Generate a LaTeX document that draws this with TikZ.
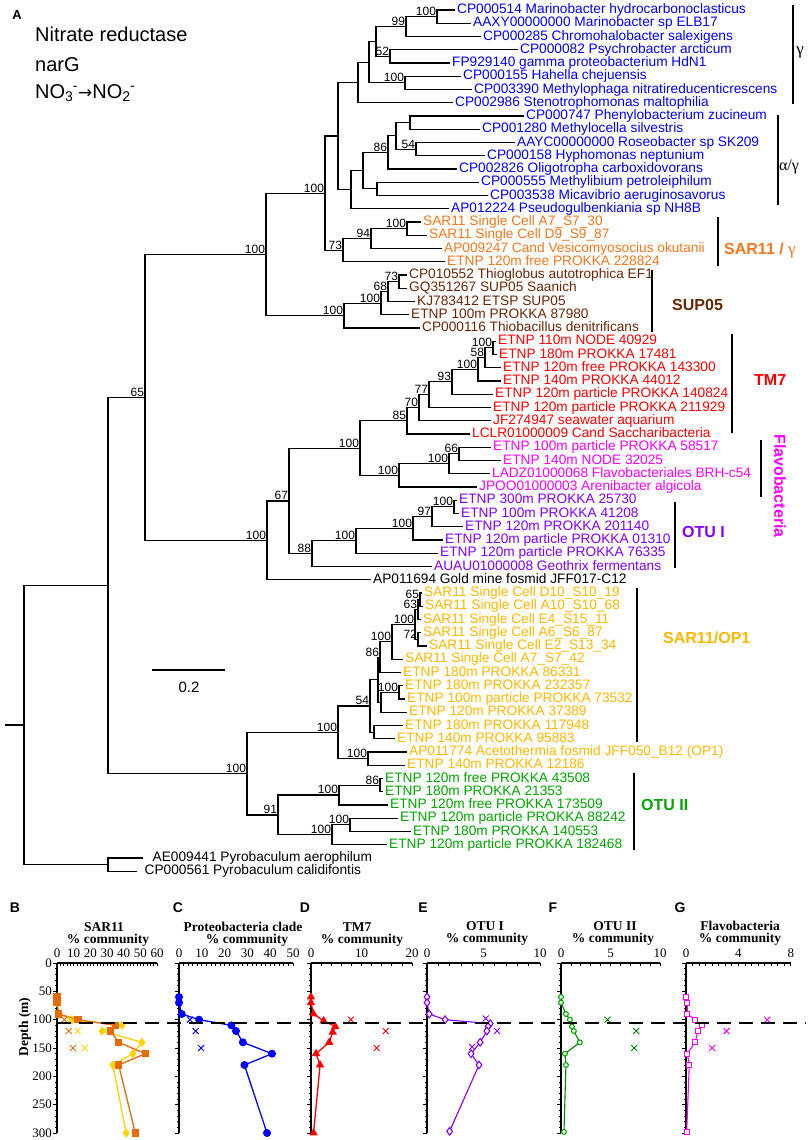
\documentclass[tikz,border=0pt]{standalone}
\usepackage{fontspec}
\setmainfont{Liberation Sans}
\newfontfamily\lsans{Liberation Sans}
\newfontfamily\lserif{Liberation Serif}
\newfontfamily\dejavu{DejaVu Sans}
\usetikzlibrary{plotmarks}
\definecolor{cblue}{RGB}{0,0,255}
\definecolor{corange}{RGB}{245,120,30}
\definecolor{cbrown}{RGB}{105,40,5}
\definecolor{cred}{RGB}{255,0,0}
\definecolor{cmag}{RGB}{255,0,255}
\definecolor{cpurp}{RGB}{130,0,255}
\definecolor{cgold}{RGB}{255,185,0}
\definecolor{cgreen}{RGB}{0,165,0}
\definecolor{sqorange}{RGB}{228,108,10}
\definecolor{dyellow}{RGB}{255,210,0}
\definecolor{fgreen}{RGB}{0,128,0}
\newcommand\leaffont{\lsans\fontsize{13.7}{15}\selectfont}
\newcommand\bootfont{\lsans\fontsize{12}{13}\selectfont}
\newcommand\cladefont{\lsans\bfseries\fontsize{16}{18}\selectfont}
\newcommand\axfont{\lserif\fontsize{13}{15}\selectfont}
\newcommand\axtfont{\lserif\bfseries\fontsize{13.5}{15}\selectfont}
\newcommand\panfont{\lsans\bfseries\fontsize{14}{16}\selectfont}
\newcommand\titfont{\lsans\fontsize{20}{24}\selectfont}
\tikzset{
  br/.style={line width=1.2pt},
  leaf/.style={anchor=west,inner xsep=2.5pt,inner ysep=0pt,text height=0.716em,text depth=0pt,font=\leaffont},
  boot/.style={anchor=south east,inner xsep=0.8pt,inner ysep=0.8pt,font=\bootfont},
  clade/.style={font=\cladefont,inner sep=0pt},
  cbar/.style={line width=1.3pt},
  axline/.style={line width=1.6pt},
  tk/.style={line width=0.8pt},
  axlab/.style={font=\axfont,inner sep=0pt},
  axtitle/.style={font=\axtfont,inner sep=0pt},
  panlab/.style={font=\panfont,inner sep=0pt},
  titl/.style={anchor=base west,inner sep=0pt,font=\titfont},
  xcross/.pic={\draw[line width=0.9pt] (-3pt,-3pt)--(3pt,3pt) (-3pt,3pt)--(3pt,-3pt);}
}
\begin{document}
\begin{tikzpicture}[x=1pt,y=-1pt]
\fill[white] (0,0) rectangle (808,1140);
\path[use as bounding box] (0,0) rectangle (808,1140);

% ---------- title ----------
\node[panlab,font=\lsans\bfseries\fontsize{13}{15}\selectfont] (pA) at (17,15) {A};
\node[titl] (t1) at (35,42) {Nitrate reductase};
\node[titl] (t2) at (35,71) {narG};
\node[titl] (t3) at (35,98) {NO\textsubscript{3}\kern-0.5pt\textsuperscript{-}{\dejavu\fontsize{17}{20}\selectfont →}NO\textsubscript{2}\kern-0.5pt\textsuperscript{-}};

% ---------- leaves ----------
\node[leaf,cblue] (l0) at (454.5,10) {CP000514 Marinobacter hydrocarbonoclasticus};
\node[leaf,cblue] (l1) at (470.5,23.25) {AAXY00000000 Marinobacter sp ELB17};
\node[leaf,cblue] (l2) at (480.5,36.5) {CP000285 Chromohalobacter salexigens};
\node[leaf,cblue] (l3) at (517.5,49.75) {CP000082 Psychrobacter arcticum};
\node[leaf,cblue] (l4) at (449.5,63) {FP929140 gamma proteobacterium HdN1};
\node[leaf,cblue] (l5) at (460.5,76.25) {CP000155 Hahella chejuensis};
\node[leaf,cblue] (l6) at (471.5,89.5) {CP003390 Methylophaga nitratireducenticrescens};
\node[leaf,cblue] (l7) at (452.5,102.75) {CP002986 Stenotrophomonas maltophilia};
\node[leaf,cblue] (l8) at (523.5,116) {CP000747 Phenylobacterium zucineum};
\node[leaf,cblue] (l9) at (479.5,129.25) {CP001280 Methylocella silvestris};
\node[leaf,cblue] (l10) at (514.5,142.5) {AAYC00000000 Roseobacter sp SK209};
\node[leaf,cblue] (l11) at (484.5,155.75) {CP000158 Hyphomonas neptunium};
\node[leaf,cblue] (l12) at (456.5,169) {CP002826 Oligotropha carboxidovorans};
\node[leaf,cblue] (l13) at (478.5,182.25) {CP000555 Methylibium petroleiphilum};
\node[leaf,cblue] (l14) at (487.5,195.5) {CP003538 Micavibrio aeruginosavorus};
\node[leaf,cblue] (l15) at (448.5,208.75) {AP012224 Pseudogulbenkiania sp NH8B};
\node[leaf,corange] (l16) at (420.5,222) {SAR11 Single Cell A7\_S7\_30};
\node[leaf,corange] (l17) at (426.5,235.25) {SAR11 Single Cell D9\_S9\_87};
\node[leaf,corange] (l18) at (441.5,248.5) {AP009247 Cand Vesicomyosocius okutanii};
\node[leaf,corange] (l19) at (444.5,261.75) {ETNP 120m free PROKKA 228824};
\node[leaf,cbrown] (l20) at (406.5,275) {CP010552 Thioglobus autotrophica EF1};
\node[leaf,cbrown] (l21) at (406.5,288.25) {GQ351267 SUP05 Saanich};
\node[leaf,cbrown] (l22) at (414.5,301.5) {KJ783412 ETSP SUP05};
\node[leaf,cbrown] (l23) at (408.5,314.75) {ETNP 100m PROKKA 87980};
\node[leaf,cbrown] (l24) at (419.5,328) {CP000116 Thiobacillus denitrificans};
\node[leaf,cred] (l25) at (495.5,341.25) {ETNP 110m NODE 40929};
\node[leaf,cred] (l26) at (496.5,354.5) {ETNP 180m PROKKA 17481};
\node[leaf,cred] (l27) at (500.5,367.75) {ETNP 120m free PROKKA 143300};
\node[leaf,cred] (l28) at (500.5,381) {ETNP 140m PROKKA 44012};
\node[leaf,cred] (l29) at (492.5,394.25) {ETNP 120m particle PROKKA 140824};
\node[leaf,cred] (l30) at (490.5,407.5) {ETNP 120m particle PROKKA 211929};
\node[leaf,cred] (l31) at (490.5,420.75) {JF274947 seawater aquarium};
\node[leaf,cred] (l32) at (469.5,434) {LCLR01000009 Cand Saccharibacteria};
\node[leaf,cmag] (l33) at (490.5,447.25) {ETNP 100m particle PROKKA 58517};
\node[leaf,cmag] (l34) at (500.5,460.5) {ETNP 140m NODE 32025};
\node[leaf,cmag] (l35) at (489.5,473.75) {LADZ01000068 Flavobacteriales BRH-c54};
\node[leaf,cmag] (l36) at (476.5,487) {JPOO01000003 Arenibacter algicola};
\node[leaf,cpurp] (l37) at (456.5,500.25) {ETNP 300m PROKKA 25730};
\node[leaf,cpurp] (l38) at (458.5,513.5) {ETNP 100m PROKKA 41208};
\node[leaf,cpurp] (l39) at (462.5,526.75) {ETNP 120m PROKKA 201140};
\node[leaf,cpurp] (l40) at (442.5,540) {ETNP 120m particle PROKKA 01310};
\node[leaf,cpurp] (l41) at (437.5,553.25) {ETNP 120m particle PROKKA 76335};
\node[leaf,cpurp] (l42) at (431.5,566.5) {AUAU01000008 Geothrix fermentans};
\node[leaf,black] (l43) at (370.5,579.75) {AP011694 Gold mine fosmid JFF017-C12};
\node[leaf,cgold] (l44) at (421.5,593) {SAR11 Single Cell D10\_S10\_19};
\node[leaf,cgold] (l45) at (422.5,606.25) {SAR11 Single Cell A10\_S10\_68};
\node[leaf,cgold] (l46) at (420.5,619.5) {SAR11 Single Cell E4\_S15\_11};
\node[leaf,cgold] (l47) at (420.5,632.75) {SAR11 Single Cell A6\_S6\_87};
\node[leaf,cgold] (l48) at (426.5,646) {SAR11 Single Cell E2\_S13\_34};
\node[leaf,cgold] (l49) at (402.5,659.25) {SAR11 Single Cell A7\_S7\_42};
\node[leaf,cgold] (l50) at (400.5,672.5) {ETNP 180m PROKKA 86331};
\node[leaf,cgold] (l51) at (402.5,685.75) {ETNP 180m PROKKA 232357};
\node[leaf,cgold] (l52) at (404.5,699) {ETNP 100m particle PROKKA 73532};
\node[leaf,cgold] (l53) at (406.5,712.25) {ETNP 120m PROKKA 37389};
\node[leaf,cgold] (l54) at (402.5,725.5) {ETNP 180m PROKKA 117948};
\node[leaf,cgold] (l55) at (394.5,738.75) {ETNP 140m PROKKA 95883};
\node[leaf,cgold] (l56) at (406.5,752) {AP011774 Acetothermia fosmid JFF050\_B12 (OP1)};
\node[leaf,cgold] (l57) at (404.5,765.25) {ETNP 140m PROKKA 12186};
\node[leaf,cgreen] (l58) at (382.5,778.5) {ETNP 120m free PROKKA 43508};
\node[leaf,cgreen] (l59) at (382.5,791.75) {ETNP 180m PROKKA 21353};
\node[leaf,cgreen] (l60) at (387.5,805) {ETNP 120m free PROKKA 173509};
\node[leaf,cgreen] (l61) at (397.5,818.25) {ETNP 120m particle PROKKA 88242};
\node[leaf,cgreen] (l62) at (410.5,831.5) {ETNP 180m PROKKA 140553};
\node[leaf,cgreen] (l63) at (386.5,844.75) {ETNP 120m particle PROKKA 182468};
\node[leaf,black] (l64) at (143,858) {\hspace{7pt}AE009441 Pyrobaculum aerophilum};
\node[leaf,black] (l65) at (137,871.25) {\hspace{5pt}CP000561 Pyrobaculum calidifontis};

% ---------- internal nodes ----------
\coordinate (n100a) at (437,16.625);
\coordinate (n99) at (406,26.56);
\coordinate (n52) at (390,56.375);
\coordinate (nA) at (376,41.47);
\coordinate (n100b) at (405,82.875);
\coordinate (nB) at (369,62.17);
\coordinate (nC) at (358,82.46);
\coordinate (nE1) at (410,122.625);
\coordinate (n54) at (416,149.125);
\coordinate (nD) at (396,135.875);
\coordinate (n86) at (388,152.44);
\coordinate (n377) at (377,188.875);
\coordinate (n363) at (363,170.66);
\coordinate (n351) at (351,189.70);
\coordinate (nR) at (338,136.08);
\coordinate (n100c) at (407,228.625);
\coordinate (n94) at (371,238.56);
\coordinate (n73) at (343,250.16);
\coordinate (nQ) at (325,193.12);
\coordinate (n73b) at (399,281.625);
\coordinate (n68) at (388,291.56);
\coordinate (n100d) at (381,303.16);
\coordinate (nS) at (344,315.58);
\coordinate (nP) at (266,254.35);
\coordinate (n100e) at (493,347.875);
\coordinate (n58) at (485,357.81);
\coordinate (n100f) at (478,369.41);
\coordinate (n93) at (452,381.83);
\coordinate (n77) at (429,394.66);
\coordinate (n70) at (419,407.71);
\coordinate (n85) at (407,420.85);
\coordinate (n66) at (459,453.875);
\coordinate (n100g) at (449,463.81);
\coordinate (n100h) at (399,475.41);
\coordinate (n100i) at (360,448.13);
\coordinate (n100j) at (454,506.875);
\coordinate (n97) at (432,516.81);
\coordinate (n100k) at (413,528.41);
\coordinate (n100l) at (356,540.83);
\coordinate (n88) at (312,553.66);
\coordinate (n67) at (289,500.90);
\coordinate (n100m) at (267,540.32);
\coordinate (n65) at (145,397.34);
\coordinate (n65b) at (420,599.625);
\coordinate (n63) at (418,609.56);
\coordinate (n72) at (418,639.375);
\coordinate (n100n) at (415,624.47);
\coordinate (n100o) at (392,641.86);
\coordinate (n86b) at (380,657.18);
\coordinate (n100p) at (399,692.375);
\coordinate (nX) at (381,702.31);
\coordinate (nY) at (378,679.75);
\coordinate (nZ) at (374,732.125);
\coordinate (n54b) at (370,705.94);
\coordinate (n100q) at (368,758.625);
\coordinate (n100r) at (338,732.28);
\coordinate (n86c) at (380,785.125);
\coordinate (n100s) at (339,795.06);
\coordinate (n100t) at (350,824.875);
\coordinate (n100u) at (332,834.81);
\coordinate (n91) at (278,814.94);
\coordinate (n100v) at (247,773.61);
\coordinate (n108) at (108,585.48);
\coordinate (nPy) at (108,864.625);
\coordinate (root) at (24,725.05);
\coordinate (stub) at (5,725.05);

% ---------- branches ----------
\foreach \p/\c in {n100a/l0,n100a/l1,n99/n100a,n99/l2,n52/l3,n52/l4,nA/n99,nA/n52,n100b/l5,n100b/l6,nB/nA,nB/n100b,nC/nB,nC/l7,
 nE1/l8,nE1/l9,n54/l10,n54/l11,nD/nE1,nD/n54,n86/nD,n86/l12,n377/l13,n377/l14,n363/n86,n363/n377,n351/n363,n351/l15,nR/nC,nR/n351,
 n100c/l16,n100c/l17,n94/n100c,n94/l18,n73/n94,n73/l19,nQ/nR,nQ/n73,
 n73b/l20,n73b/l21,n68/n73b,n68/l22,n100d/n68,n100d/l23,nS/n100d,nS/l24,nP/nQ,nP/nS,
 n100e/l25,n100e/l26,n58/n100e,n58/l27,n100f/n58,n100f/l28,n93/n100f,n93/l29,n77/n93,n77/l30,n70/n77,n70/l31,n85/n70,n85/l32,
 n66/l33,n66/l34,n100g/n66,n100g/l35,n100h/n100g,n100h/l36,n100i/n85,n100i/n100h,
 n100j/l37,n100j/l38,n97/n100j,n97/l39,n100k/n97,n100k/l40,n100l/n100k,n100l/l41,n88/n100l,n88/l42,n67/n100i,n67/n88,n100m/n67,n100m/l43,n65/nP,n65/n100m,
 n65b/l44,n65b/l45,n63/n65b,n63/l46,n72/l47,n72/l48,n100n/n63,n100n/n72,n100o/n100n,n100o/l49,n86b/n100o,n86b/l50,n100p/l51,n100p/l52,nX/n100p,nX/l53,nY/n86b,nY/nX,nZ/l54,nZ/l55,n54b/nY,n54b/nZ,n100q/l56,n100q/l57,n100r/n54b,n100r/n100q,
 n86c/l58,n86c/l59,n100s/n86c,n100s/l60,n100t/l61,n100t/l62,n100u/n100t,n100u/l63,n91/n100s,n91/n100u,n100v/n100r,n100v/n91,
 n108/n65,n108/n100v,nPy/l64,nPy/l65,root/n108,root/nPy}
  \draw[br] (\p) |- (\c);
\draw[br] (stub) -- (root);

% ---------- bootstrap values ----------
\foreach \n/\v in {n100a/100,n99/99,n52/52,n100b/100,n54/54,n86/86,nQ/100,n100c/100,n94/94,n73/73,
 n73b/73,n68/68,n100d/100,nS/100,nP/100,n100e/100,n58/58,n100f/100,n93/93,n77/77,n70/70,n85/85,
 n66/66,n100g/100,n100h/100,n100i/100,n100j/100,n97/97,n100k/100,n100l/100,n88/88,n67/67,n100m/100,n65/65,
 n65b/65,n63/63,n72/72,n100n/100,n100o/100,n86b/86,n100p/100,n54b/54,n100q/100,n100r/100,
 n86c/86,n100s/100,n100t/100,n100u/100,n91/91,n100v/100}
  \node[boot] at (\n) {\v};

% ---------- scale bar ----------
\coordinate (sb1) at (152,670);
\coordinate (sb2) at (225,670);
\draw[br] (sb1) -- (sb2);
\node[inner sep=0pt,font=\lsans\fontsize{15}{17}\selectfont] (sbl) at (189,687) {0.2};

% ---------- clade bars and labels ----------
\draw[cbar] (793,5) -- (793,104);
\node[inner sep=0pt,font=\lserif\fontsize{17}{18}\selectfont] (cg) at (800,52) {γ};
\draw[cbar] (778,115) -- (778,205);
\node[inner sep=0pt,font=\lserif\fontsize{16}{18}\selectfont] (cag) at (789,167) {α/γ};
\draw[cbar] (718,217) -- (718,266);
\node[clade,anchor=west,corange] (cs1) at (724,251) {SAR11 / {\lserif\mdseries\fontsize{17}{18}\selectfont γ}};
\draw[cbar] (652,270) -- (652,332);
\node[clade,anchor=west,cbrown] (csup) at (672,305) {SUP05};
\draw[cbar] (732,334) -- (732,433);
\node[clade,anchor=west,cred] (ctm) at (754,380) {TM7};
\draw[cbar] (761,440) -- (761,497);
\node[clade,cmag,rotate=-90] (cfl) at (780,486) {Flavobacteria};
\draw[cbar] (675,502) -- (675,568);
\node[clade,anchor=west,cpurp] (cot1) at (682,532) {OTU I};
\draw[cbar] (637,588) -- (637,742);
\node[clade,anchor=west,cgold] (cop) at (663,638) {SAR11/OP1};
\draw[cbar] (634,773) -- (634,850);
\node[clade,anchor=west,cgreen] (cot2) at (641,805) {OTU II};

% ---------- bottom panels ----------
\node[panlab] (pB) at (15,908) {B};
\node[panlab] (pC) at (178,908) {C};
\node[panlab] (pD) at (305,908) {D};
\node[panlab] (pE) at (423,908) {E};
\node[panlab] (pF) at (553,908) {F};
\node[panlab] (pG) at (680,908) {G};
\node[axtitle,rotate=90] (dep) at (25,1027) {Depth (m)};

% panel B
\node[axtitle] at (104,927) {SAR11};
\node[axtitle] at (108,940) {\% community};
\begin{scope}[shift={(57,963)},x=1.6667pt,y=-0.56667pt]
 \draw[axline] (0,0) -- (60,0);
 \draw[axline] (0,0) -- (0,300);
 \foreach \v in {0,2,...,60} \draw[tk] (\v,0) -- ++(0pt,-2.5pt);
 \foreach \d in {0,10,...,300} \draw[tk] (0,\d) -- ++(-2.5pt,0pt);
 \foreach \d in {0,50,...,300} {\draw[tk] (0,\d) -- ++(-4.5pt,0pt); \node[axlab,anchor=east] at ([xshift=-5pt]0,\d) {\d};}
 \foreach \v in {0,10,...,60} \node[axlab] at ([yshift=10pt]\v,0) {\v};
 \draw[dyellow,line width=1.3pt,mark=diamond*,mark size=3.6pt,mark options={fill=dyellow,solid}] plot coordinates {(0,60) (0,70) (1.5,90) (9,100) (39,110) (27,120) (51,140) (45.5,160) (33.5,180) (41.5,300)};
 \draw[sqorange,line width=1.3pt,mark=square*,mark size=3pt,mark options={fill=sqorange,solid}] plot coordinates {(0,60) (0,70) (1,90) (12.6,100) (35,110) (32,120) (37,140) (53,160) (37,180) (47,300)};
 \foreach \a/\b in {4.4/100,7/120,9.6/150} \pic[color=sqorange] at (\a,\b) {xcross};
 \foreach \a/\b in {8/100,12.4/120,16.6/150} \pic[color=dyellow] at (\a,\b) {xcross};
\end{scope}

% panel C
\node[axtitle] at (243,927) {Proteobacteria clade};
\node[axtitle] at (247,940) {\% community};
\begin{scope}[shift={(179,963)},x=2.28pt,y=-0.56667pt]
 \draw[axline] (0,0) -- (50,0);
 \draw[axline] (0,0) -- (0,300);
 \foreach \v in {0,2,...,50} \draw[tk] (\v,0) -- ++(0pt,-2.5pt);
 \foreach \d in {0,10,...,300} \draw[tk] (0,\d) -- ++(-2.5pt,0pt);
 \foreach \d in {0,50,...,300} \draw[tk] (0,\d) -- ++(-4.5pt,0pt);
 \foreach \v in {0,10,...,50} \node[axlab] at ([yshift=10pt]\v,0) {\v};
 \draw[cblue,line width=1.3pt,mark=*,mark size=3.3pt,mark options={fill=cblue,solid}] plot coordinates {(0,60) (0,70) (1.2,90) (8.8,100) (23,110) (25,120) (28,140) (40.8,160) (28.7,180) (38.6,300)};
 \foreach \a/\b in {4.8/100,7.3/120,9.7/150} \pic[color=cblue] at (\a,\b) {xcross};
\end{scope}

% panel D
\node[axtitle] at (357,927) {TM7};
\node[axtitle] at (362,940) {\% community};
\begin{scope}[shift={(311,963)},x=5.05pt,y=-0.56667pt]
 \draw[axline] (0,0) -- (20,0);
 \draw[axline] (0,0) -- (0,300);
 \foreach \v in {0,2,...,20} \draw[tk] (\v,0) -- ++(0pt,-2.5pt);
 \foreach \d in {0,10,...,300} \draw[tk] (0,\d) -- ++(-2.5pt,0pt);
 \foreach \d in {0,50,...,300} \draw[tk] (0,\d) -- ++(-4.5pt,0pt);
 \foreach \v in {0,10,20} \node[axlab] at ([yshift=10pt]\v,0) {\v};
 \draw[cred,line width=1.3pt,mark=triangle*,mark size=3.6pt,mark options={fill=cred,solid}] plot coordinates {(0,60) (0,70) (0.5,90) (2.5,102) (4.8,112) (4.3,122) (3.6,140) (1.0,160) (1.8,180) (0.5,300)};
 \foreach \a/\b in {7.9/100,14.8/120,13/150} \pic[color=cred] at (\a,\b) {xcross};
\end{scope}

% panel E
\node[axtitle] at (485,926) {OTU I};
\node[axtitle] at (487,939) {\% community};
\begin{scope}[shift={(427,963)},x=11.3pt,y=-0.56667pt]
 \draw[axline] (0,0) -- (10,0);
 \draw[axline] (0,0) -- (0,300);
 \foreach \v in {0,1,...,10} \draw[tk] (\v,0) -- ++(0pt,-2.5pt);
 \foreach \d in {0,10,...,300} \draw[tk] (0,\d) -- ++(-2.5pt,0pt);
 \foreach \d in {0,50,...,300} \draw[tk] (0,\d) -- ++(-4.5pt,0pt);
 \foreach \v in {0,5,10} \node[axlab] at ([yshift=10pt]\v,0) {\v};
 \draw[cpurp,line width=1.1pt,mark=diamond*,mark size=3.8pt,mark options={fill=white,solid}] plot coordinates {(0,60) (0,70) (0.2,90) (1.6,100) (5.6,107) (5.4,112) (5.3,120) (4.7,140) (3.9,160) (4.6,180) (2.0,297)};
 \foreach \a/\b in {5.2/98,6.2/120,4.0/148} \pic[color=cpurp] at (\a,\b) {xcross};
\end{scope}

% panel F
\node[axtitle] at (615,926) {OTU II};
\node[axtitle] at (613,939) {\% community};
\begin{scope}[shift={(561,963)},x=9.9pt,y=-0.56667pt]
 \draw[axline] (0,0) -- (10,0);
 \draw[axline] (0,0) -- (0,300);
 \foreach \v in {0,1,...,10} \draw[tk] (\v,0) -- ++(0pt,-2.5pt);
 \foreach \d in {0,10,...,300} \draw[tk] (0,\d) -- ++(-2.5pt,0pt);
 \foreach \d in {0,50,...,300} \draw[tk] (0,\d) -- ++(-4.5pt,0pt);
 \foreach \v in {0,5,10} \node[axlab] at ([yshift=10pt]\v,0) {\v};
 \draw[fgreen,line width=1.1pt,mark=*,mark size=2.4pt,mark options={fill=white,draw=cgreen,solid}] plot coordinates {(0,60) (0,70) (0.5,90) (0.9,100) (1.1,112) (1.3,120) (1.9,140) (0.4,160) (0.5,180) (0.3,298)};
 \foreach \a/\b in {4.7/100,7.6/120,7.4/150} \pic[color=fgreen] at (\a,\b) {xcross};
\end{scope}

% panel G
\node[axtitle] at (740,926) {Flavobacteria};
\node[axtitle] at (740,939) {\% community};
\begin{scope}[shift={(686,963)},x=13.1pt,y=-0.56667pt]
 \draw[axline] (0,0) -- (8,0);
 \draw[axline] (0,0) -- (0,300);
 \foreach \v in {0,0.5,...,8} \draw[tk] (\v,0) -- ++(0pt,-2.5pt);
 \foreach \d in {0,10,...,300} \draw[tk] (0,\d) -- ++(-2.5pt,0pt);
 \foreach \d in {0,50,...,300} \draw[tk] (0,\d) -- ++(-4.5pt,0pt);
 \foreach \v in {0,4,8} \node[axlab] at ([yshift=10pt]\v,0) {\v};
 \draw[cmag,line width=1.1pt,mark=square*,mark size=2.6pt,mark options={fill=white,solid}] plot coordinates {(0,60) (0.1,70) (0.1,90) (0.7,100) (1.2,110) (0.9,120) (0.7,140) (0.1,160) (0.25,180) (0.05,298)};
 \foreach \a/\b in {6.2/100,3.1/120,2.0/150} \pic[color=cmag] at (\a,\b) {xcross};
\end{scope}

% dashed line (oxycline depth)
\coordinate (dl1) at (57,1023);
\coordinate (dl2) at (806,1023);
\draw[line width=1.7pt,dash pattern=on 14pt off 8pt] (dl1) -- (dl2);
\end{tikzpicture}
\end{document}
